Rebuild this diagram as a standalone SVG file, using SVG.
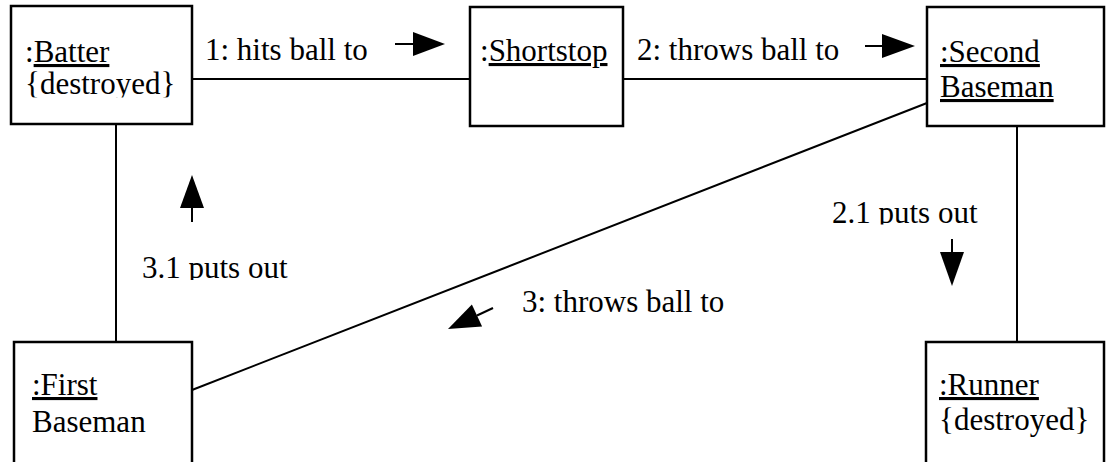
<svg xmlns="http://www.w3.org/2000/svg" width="1112" height="462" viewBox="0 0 1112 462">
<style>
  text, tspan { font-family: 'Liberation Serif', serif !important; font-size: 31px; }
  .box { fill: #fff; stroke: #000; stroke-width: 2.5; }
  .ln { stroke: #000; stroke-width: 2; fill: none; }
  .ah { fill: #000; stroke: none; }
  .u { text-decoration: underline; }
</style>
<defs>
  <clipPath id="clipBatter"><rect x="0" y="0" width="200" height="97.5"/></clipPath>
  <clipPath id="clip31"><rect x="130" y="240" width="200" height="40"/></clipPath>
  <clipPath id="clip21"><rect x="820" y="185" width="200" height="39.5"/></clipPath>
</defs>
<rect width="1112" height="462" fill="#fff"/>
<g id="connectors">
  <line class="ln" x1="192" y1="79" x2="470" y2="79"/>
  <line class="ln" x1="623" y1="79" x2="927" y2="79"/>
  <line class="ln" x1="116" y1="124" x2="116" y2="342"/>
  <line class="ln" x1="1017" y1="126" x2="1017" y2="342"/>
  <line class="ln" x1="192" y1="390" x2="927" y2="103"/>
</g>
<g id="messages">
  <g id="msg1">
    <line class="ln" x1="395" y1="44" x2="414" y2="44"/>
    <polygon class="ah" points="413,32 445,44 413,56"/>
    <text x="205" y="60">1: hits ball to</text>
  </g>
  <g id="msg2">
    <line class="ln" x1="865" y1="46" x2="883" y2="46"/>
    <polygon class="ah" points="882,34 915,46 882,58"/>
    <text x="637" y="60">2: throws ball to</text>
  </g>
  <g id="msg21">
    <line class="ln" x1="952" y1="239" x2="952" y2="253"/>
    <polygon class="ah" points="940,252 964,252 952,286"/>
    <text x="832" y="223" clip-path="url(#clip21)">2.1 puts out</text>
  </g>
  <g id="msg3">
    <line class="ln" x1="477" y1="315.5" x2="493" y2="308"/>
    <polygon class="ah" points="471.9,304.6 482.1,326.4 448,329"/>
    <text x="522" y="312">3: throws ball to</text>
  </g>
  <g id="msg31">
    <line class="ln" x1="192" y1="222" x2="192" y2="207"/>
    <polygon class="ah" points="180,208 204,208 192,175"/>
    <text x="142" y="278" clip-path="url(#clip31)">3.1 puts out</text>
  </g>
</g>
<g id="batter">
  <rect class="box" x="11" y="6" width="181" height="118"/>
  <text x="25" y="62">:<tspan class="u">Batter</tspan></text>
  <text x="25" y="94" clip-path="url(#clipBatter)">{destroyed}</text>
</g>
<g id="shortstop">
  <rect class="box" x="470" y="7" width="153" height="119"/>
  <text x="480" y="61">:<tspan class="u">Shortstop</tspan></text>
</g>
<g id="secondBaseman">
  <rect class="box" x="927" y="7" width="177" height="119"/>
  <text x="940" y="62" class="u">:Second</text>
  <text x="940" y="97" class="u">Baseman</text>
</g>
<g id="firstBaseman">
  <rect class="box" x="14" y="342" width="178" height="130"/>
  <text x="32" y="395" class="u">:First</text>
  <text x="32" y="432">Baseman</text>
</g>
<g id="runner">
  <rect class="box" x="926" y="342" width="178" height="130"/>
  <text x="939" y="395" class="u">:Runner</text>
  <text x="939" y="430">{destroyed}</text>
</g>
</svg>
